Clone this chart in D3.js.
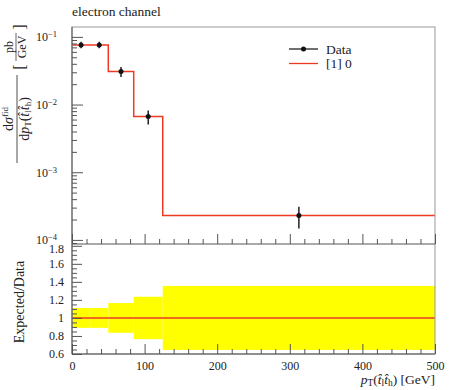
<!DOCTYPE html>
<html><head><meta charset="utf-8">
<script src="https://cdn.jsdelivr.net/npm/d3@7"></script>
<style>body{margin:0;background:#fff}svg{display:block}text{font-family:"Liberation Serif","DejaVu Serif",serif !important;fill:#222}</style>
</head><body><div id="c"></div>
<script>
const binEdges = [0, 25, 50, 85, 125, 500];
const dataX = [12.5, 37.5, 67.5, 105, 312.5];
const dataY = [0.0762, 0.0762, 0.0307, 0.00664, 0.000229];
const mcY = [0.0762, 0.0762, 0.0307, 0.00664, 0.000229];
const relErr = [0.11, 0.11, 0.165, 0.235, 0.355];
const xTicks = [0, 100, 200, 300, 400, 500];
const yMainTicks = [1e-4, 1e-3, 1e-2, 1e-1];
const ratioTicks = [0.6, 0.8, 1, 1.2, 1.4, 1.6, 1.8];

const W = 450, H = 390;
const L = 72, R = 435, T = 27, MB = 244, RB = 354;
const FONT = '"Liberation Serif","DejaVu Serif",serif';
const svg = d3.select("#c").append("svg").attr("width", W).attr("height", H);

const x = d3.scaleLinear().domain([0, 500]).range([L, R]);
const y = d3.scaleLog().domain([8.7e-5, 0.14]).range([MB, T]);
const yr = d3.scaleLinear().domain([0.6, 1.82]).range([RB, MB]);

const axisCol = "#555", frameCol = "#999", red = "#ee3a22";

// ratio band
const band = svg.append("g");
for (let i = 0; i < mcY.length; i++) {
  band.append("rect")
    .attr("x", x(binEdges[i])).attr("width", x(binEdges[i+1]) - x(binEdges[i]))
    .attr("y", yr(1 + relErr[i])).attr("height", yr(1 - relErr[i]) - yr(1 + relErr[i]))
    .attr("fill", "#ffff00");
}
svg.append("line").attr("x1", x(0)).attr("x2", x(500)).attr("y1", yr(1)).attr("y2", yr(1))
  .attr("stroke", red).attr("stroke-width", 1.5);

// MC step line
const stepPts = [];
for (let i = 0; i < mcY.length; i++) {
  stepPts.push([x(binEdges[i]), y(mcY[i])]);
  stepPts.push([x(binEdges[i+1]), y(mcY[i])]);
}
svg.append("path").attr("d", d3.line()(stepPts)).attr("fill", "none")
  .attr("stroke", red).attr("stroke-width", 1.5);

// data
const dg = svg.append("g");
dataX.forEach((v, i) => {
  dg.append("line").attr("x1", x(v)).attr("x2", x(v))
    .attr("y1", y(dataY[i] * (1 + relErr[i]))).attr("y2", y(dataY[i] * (1 - relErr[i])))
    .attr("stroke", "#222").attr("stroke-width", 1.5);
  dg.append("circle").attr("cx", x(v)).attr("cy", y(dataY[i])).attr("r", 2.5).attr("fill", "#111");
});

// frames
svg.append("rect").attr("x", L).attr("y", T).attr("width", R - L).attr("height", RB - T)
  .attr("fill", "none").attr("stroke", frameCol).attr("stroke-width", 1);
svg.append("line").attr("x1", L).attr("x2", R).attr("y1", MB).attr("y2", MB).attr("stroke", axisCol);

function styleAxis(g) {
  g.attr("font-family", FONT).attr("font-size", 12);
  g.selectAll(".domain").remove();
  g.selectAll("line").attr("stroke", axisCol);
  g.selectAll("text").attr("fill", "#222").attr("font-family", FONT).attr("font-size", 12);
}

// main y axis
const gy = svg.append("g").attr("transform", `translate(${L},0)`)
  .call(d3.axisLeft(y).tickValues(yMainTicks).tickSizeInner(-11).tickSizeOuter(0).tickPadding(14).tickFormat(""));
styleAxis(gy);
gy.selectAll(".tick").each(function(d) {
  const t = d3.select(this).select("text").text(null).attr("text-anchor", "end").attr("x", -15).attr("dy", "0.32em");
  t.append("tspan").text("10");
  t.append("tspan").attr("dy", "-0.45em").attr("font-size", 8.5).text("\u2212" + Math.round(-Math.log10(d)));
});
const minorY = [];
[1e-5, 1e-4, 1e-3, 1e-2, 1e-1].forEach(dd => { for (let k = 2; k <= 9; k++) { const v = dd * k; if (v >= 8.7e-5 && v <= 0.14) minorY.push(v); } });
styleAxis(svg.append("g").attr("transform", `translate(${L},0)`)
  .call(d3.axisLeft(y).tickValues(minorY).tickSizeInner(-5).tickSizeOuter(0).tickFormat("")));

// main x ticks (no labels)
styleAxis(svg.append("g").attr("transform", `translate(0,${MB})`)
  .call(d3.axisBottom(x).tickValues(xTicks).tickSizeInner(-10).tickSizeOuter(0).tickFormat("")));
const minorX = d3.range(0, 501, 20).filter(v => v % 100 !== 0);
styleAxis(svg.append("g").attr("transform", `translate(0,${MB})`)
  .call(d3.axisBottom(x).tickValues(minorX).tickSizeInner(-5).tickSizeOuter(0).tickFormat("")));

// ratio y axis
const gr = svg.append("g").attr("transform", `translate(${L},0)`)
  .call(d3.axisLeft(yr).tickValues(ratioTicks).tickSizeInner(-10).tickSizeOuter(0).tickPadding(8)
    .tickFormat(d => d === 1 ? "1" : d3.format(".1f")(d)));
styleAxis(gr);
gr.selectAll(".tick").filter(d => d === 1.8).select("text").attr("dy", "0.55em");
styleAxis(svg.append("g").attr("transform", `translate(${L},0)`)
  .call(d3.axisLeft(yr).tickValues(d3.range(0.65, 1.82, 0.05).filter(v => Math.abs(v * 5 - Math.round(v * 5)) > 0.01))
    .tickSizeInner(-5).tickSizeOuter(0).tickFormat("")));

// ratio x axis
const gx = svg.append("g").attr("transform", `translate(0,${RB})`)
  .call(d3.axisBottom(x).tickValues(xTicks).tickSizeInner(-10).tickSizeOuter(0).tickPadding(6).tickFormat(d3.format("d")));
styleAxis(gx);
gx.selectAll("text").attr("y", 7).attr("dy", "0.71em");
styleAxis(svg.append("g").attr("transform", `translate(0,${RB})`)
  .call(d3.axisBottom(x).tickValues(minorX).tickSizeInner(-5).tickSizeOuter(0).tickFormat("")));
svg.append("line").attr("x1", L).attr("x2", R).attr("y1", RB).attr("y2", RB).attr("stroke", axisCol);
svg.append("line").attr("x1", L).attr("x2", L).attr("y1", T).attr("y2", RB).attr("stroke", axisCol);

// title
svg.append("text").attr("x", L).attr("y", 16).attr("font-size", 13.5).text("electron channel");

// legend
const lg = svg.append("g").attr("font-size", 13.5);
lg.append("line").attr("x1", 289).attr("x2", 318).attr("y1", 49).attr("y2", 49).attr("stroke", "#222").attr("stroke-width", 1.3);
lg.append("circle").attr("cx", 303.5).attr("cy", 49).attr("r", 2.5).attr("fill", "#111");
lg.append("text").attr("x", 326).attr("y", 53.5).text("Data");
lg.append("line").attr("x1", 289).attr("x2", 318).attr("y1", 63.5).attr("y2", 63.5).attr("stroke", red).attr("stroke-width", 1.3);
lg.append("text").attr("x", 326).attr("y", 68).text("[1] 0");

// x label
const xl = svg.append("text").attr("x", R).attr("y", 384).attr("text-anchor", "end").attr("font-size", 13.5);
xl.append("tspan").style("font-style", "italic").text("p");
xl.append("tspan").attr("dy", "2").attr("font-size", 9.5).text("T");
xl.append("tspan").attr("dy", "-2").text("(");
xl.append("tspan").style("font-style", "italic").text("t\u0302");
xl.append("tspan").attr("dy", "2").attr("font-size", 9.5).text("l");
xl.append("tspan").attr("dy", "-2").style("font-style", "italic").text("t\u0302");
xl.append("tspan").attr("dy", "2").attr("font-size", 9.5).text("h");
xl.append("tspan").attr("dy", "-2").text(") [GeV]");

// main y label (rotated fraction)
const yl = svg.append("g");
function rotG(cx, cy) { return yl.append("g").attr("transform", `translate(${cx},${cy}) rotate(-90)`); }
const num = rotG(13, 119).append("text").attr("text-anchor", "middle").attr("font-size", 14);
num.append("tspan").text("d");
num.append("tspan").style("font-style", "italic").text("σ");
num.append("tspan").attr("dy", "-5").attr("font-size", 9).text("fid");
yl.append("line").attr("x1", 17).attr("x2", 17).attr("y1", 75).attr("y2", 163).attr("stroke", "#222").attr("stroke-width", 0.8);
const den = rotG(29, 119).append("text").attr("text-anchor", "middle").attr("font-size", 14);
den.append("tspan").text("d");
den.append("tspan").style("font-style", "italic").text("p");
den.append("tspan").attr("dy", "2").attr("font-size", 9).text("T");
den.append("tspan").attr("dy", "-2").text("(");
den.append("tspan").style("font-style", "italic").text("t\u0302");
den.append("tspan").attr("dy", "2").attr("font-size", 9).text("l");
den.append("tspan").attr("dy", "-2").style("font-style", "italic").text("t\u0302");
den.append("tspan").attr("dy", "2").attr("font-size", 9).text("h");
den.append("tspan").attr("dy", "-2").text(")");
rotG(25, 67).append("text").attr("text-anchor", "middle").attr("font-size", 16).text("[");
rotG(25, 27).append("text").attr("text-anchor", "middle").attr("font-size", 16).text("]");
rotG(13, 47).append("text").attr("text-anchor", "middle").attr("font-size", 12).text("pb");
yl.append("line").attr("x1", 16).attr("x2", 16).attr("y1", 33).attr("y2", 61).attr("stroke", "#222").attr("stroke-width", 0.7);
rotG(26, 47).append("text").attr("text-anchor", "middle").attr("font-size", 12).text("GeV");

// ratio y label
rotG(24, 302).append("text").attr("text-anchor", "middle").attr("font-size", 14).text("Expected/Data");
</script></body></html>
